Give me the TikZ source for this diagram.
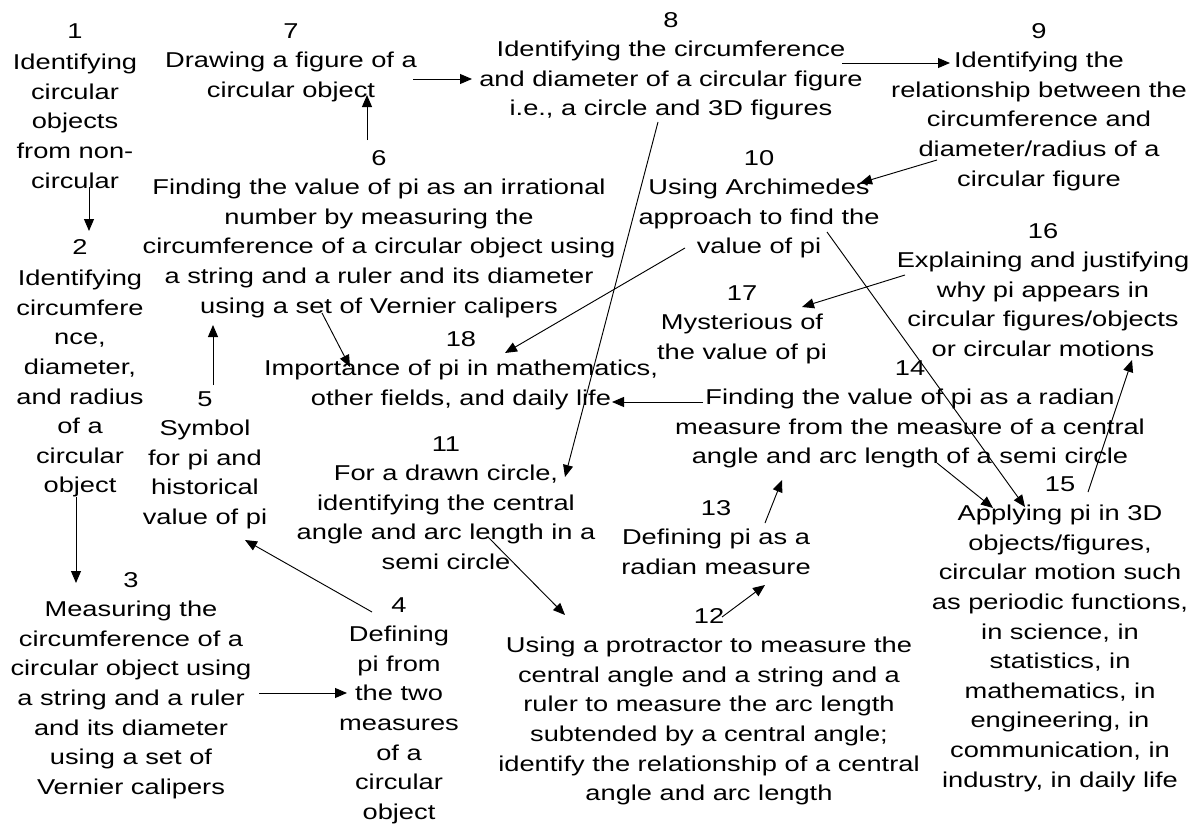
\documentclass[tikz,border=0pt]{standalone}
\usepackage{fontspec}
\setmainfont[FakeStretch=1.27]{Liberation Sans}
\usetikzlibrary{arrows.meta}
\newcommand\mlines[1]{\begin{tabular}[t]{@{}c@{}}#1\end{tabular}}
\begin{document}
\begin{tikzpicture}[x=0.75pt,y=-0.75pt,
  lbl/.style={inner sep=0pt,anchor=base,font=\fontsize{16.1}{22.2}\selectfont},
  arr/.style={-{Triangle[length=9pt,width=7.5pt]},line width=0.7pt}]
\useasboundingbox (0,0) rectangle (1199,828);
\node[lbl] (n1) at (75,38) {\mlines{1\\[1.5pt]Identifying\\circular\\objects\\from non-\\circular}};
\node[lbl] (n2) at (80,254) {\mlines{2\\[1.5pt]Identifying\\circumfere\\nce,\\diameter,\\and radius\\of a\\circular\\object}};
\node[lbl] (n3) at (131,587) {\mlines{3\\Measuring the\\circumference of a\\circular object using\\a string and a ruler\\and its diameter\\using a set of\\Vernier calipers}};
\node[lbl] (n4) at (399,612) {\mlines{4\\Defining\\pi from\\the two\\measures\\of a\\circular\\object}};
\node[lbl] (n5) at (205,406) {\mlines{5\\Symbol\\for pi and\\historical\\value of pi}};
\node[lbl] (n6) at (379,165) {\mlines{6\\Finding the value of pi as an irrational\\number by measuring the\\circumference of a circular object using\\a string and a ruler and its diameter\\using a set of Vernier calipers}};
\node[lbl] (n7) at (291,38) {\mlines{7\\Drawing a figure of a\\circular object}};
\node[lbl] (n8) at (671,27) {\mlines{8\\Identifying the circumference\\and diameter of a circular figure\\i.e., a circle and 3D figures}};
\node[lbl] (n9) at (1039,38) {\mlines{9\\Identifying the\\relationship between the\\circumference and\\diameter/radius of a\\circular figure}};
\node[lbl] (n10) at (759,165) {\mlines{10\\Using Archimedes\\approach to find the\\value of pi}};
\node[lbl] (n16) at (1043,238) {\mlines{16\\Explaining and justifying\\why pi appears in\\circular figures/objects\\or circular motions}};
\node[lbl] (n17) at (742,300) {\mlines{17\\Mysterious of\\the value of pi}};
\node[lbl] (n18) at (461,346) {\mlines{18\\Importance of pi in mathematics,\\other fields, and daily life}};
\node[lbl] (n14) at (910,375) {\mlines{14\\Finding the value of pi as a radian\\measure from the measure of a central\\angle and arc length of a semi circle}};
\node[lbl] (n11) at (446,451) {\mlines{11\\For a drawn circle,\\identifying the central\\angle and arc length in a\\semi circle}};
\node[lbl] (n13) at (716,515) {\mlines{13\\Defining pi as a\\radian measure}};
\node[lbl] (n12) at (709,623) {\mlines{12\\Using a protractor to measure the\\central angle and a string and a\\ruler to measure the arc length\\subtended by a central angle;\\identify the relationship of a central\\angle and arc length}};
\node[lbl] (n15) at (1060,491) {\mlines{15\\Applying pi in 3D\\objects/figures,\\circular motion such\\as periodic functions,\\in science, in\\statistics, in\\mathematics, in\\engineering, in\\communication, in\\industry, in daily life}};
\draw[arr] ([shift={(14,149)}]n1.base) -- ([shift={(9,-23)}]n2.base);
\draw[arr] ([shift={(-4,243)}]n2.base) -- ([shift={(-55,-4)}]n3.base);
\draw[arr] ([shift={(128,106)}]n3.base) -- ([shift={(-52,81)}]n4.base);
\draw[arr] ([shift={(-27,0)}]n4.base) -- ([shift={(40,134)}]n5.base);
\draw[arr] ([shift={(8,-21)}]n5.base) -- ([shift={(-166,160)}]n6.base);
\draw[arr] ([shift={(-12,-25)}]n6.base) -- ([shift={(76,57)}]n7.base);
\draw[arr] ([shift={(122,41)}]n7.base) -- ([shift={(-199,52)}]n8.base);
\draw[arr] ([shift={(171,36)}]n8.base) -- ([shift={(-89,25)}]n9.base);
\draw[arr] ([shift={(-13,95)}]n8.base) -- ([shift={(119,26)}]n11.base);
\draw[arr] ([shift={(-102,122)}]n9.base) -- ([shift={(101,18)}]n10.base);
\draw[arr] ([shift={(-74,83)}]n10.base) -- ([shift={(44,7)}]n18.base);
\draw[arr] ([shift={(68,67)}]n10.base) -- ([shift={(-35,16)}]n15.base);
\draw[arr] ([shift={(-57,148)}]n6.base) -- ([shift={(-111,21)}]n18.base);
\draw[arr] ([shift={(-138,37)}]n16.base) -- ([shift={(60,7)}]n17.base);
\draw[arr] ([shift={(-207,27)}]n14.base) -- ([shift={(151,56)}]n18.base);
\draw[arr] ([shift={(49,8)}]n13.base) -- ([shift={(-128,105)}]n14.base);
\draw[arr] ([shift={(13,-6)}]n12.base) -- ([shift={(49,70)}]n13.base);
\draw[arr] ([shift={(42,86)}]n11.base) -- ([shift={(-144,-8)}]n12.base);
\draw[arr] ([shift={(27,88)}]n14.base) -- ([shift={(-67,17)}]n15.base);
\draw[arr] ([shift={(28,1)}]n15.base) -- ([shift={(89,122)}]n16.base);
\end{tikzpicture}
\end{document}
